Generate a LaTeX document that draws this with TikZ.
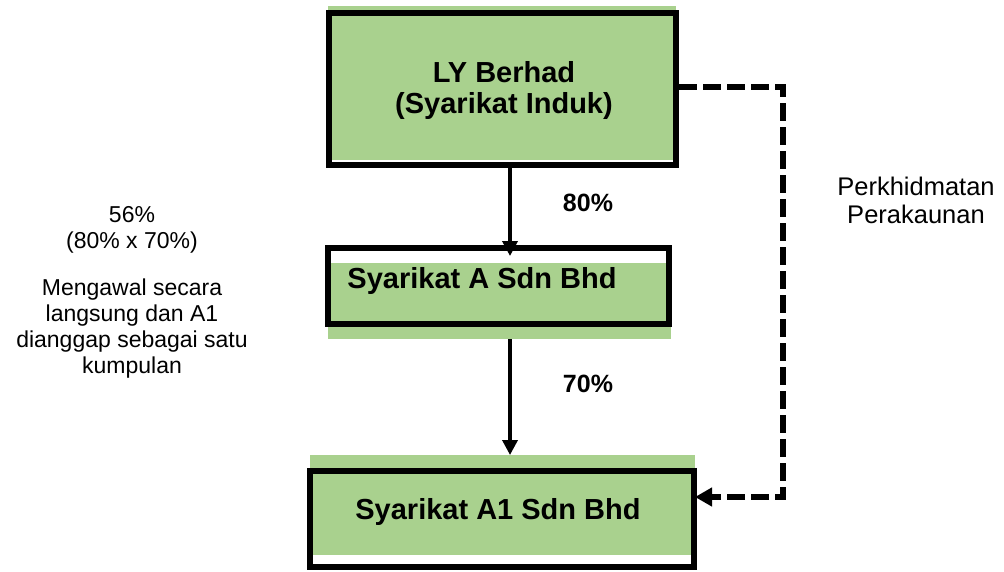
\documentclass[tikz,border=0pt]{standalone}
\usepackage{fontspec}
\setmainfont{Liberation Sans}
\usetikzlibrary{arrows.meta}
\definecolor{boxgreen}{HTML}{A9D18E}
\begin{document}
\begin{tikzpicture}[x=1pt,y=-1pt,
  greenbg/.style={fill=boxgreen, draw=none, inner sep=0pt, outer sep=0pt, rectangle},
  frame/.style={draw=black, line width=6pt, inner sep=0pt, rectangle},
  boxtext/.style={font=\fontsize{29}{31}\selectfont\bfseries, inner sep=0pt, anchor=base, align=center},
  pcttext/.style={font=\fontsize{25}{28}\selectfont\bfseries, inner sep=0pt, anchor=base},
  note/.style={inner sep=0pt, anchor=base, align=center},
  solidarrow/.style={line width=3.5pt, -{Triangle[width=15pt,length=15pt]}},
  servicearrow/.style={line width=5.5pt, dash pattern=on 18pt off 6pt, -{Triangle[width=18pt,length=17pt]}}
]
\useasboundingbox (0,0) rectangle (1004,571);

% green backgrounds
\node[greenbg, minimum width=348pt, minimum height=154pt] (bg1) at (502,83) {};
\node[greenbg, minimum width=343pt, minimum height=76pt] (bg2) at (499.5,301) {};
\node[greenbg, minimum width=385pt, minimum height=100pt] (bg3) at (502.5,505) {};

% frames
\node[frame, minimum width=347pt, minimum height=152pt] (ly) at (502.5,89) {};
\node[frame, minimum width=341pt, minimum height=76pt] (a) at (498.5,286) {};
\node[frame, minimum width=384pt, minimum height=96pt] (a1) at (502,519) {};

% box texts (base anchor = baseline of last line)
\node[boxtext] (lyt) at (504,113) {LY Berhad\\(Syarikat Induk)};
\node[boxtext] (at) at (482,288) {Syarikat A Sdn Bhd};
\node[boxtext] (a1t) at (498,519) {Syarikat A1 Sdn Bhd};

% ownership arrows
\coordinate (col) at (510,0);
\draw[solidarrow, shorten >=-11pt] (col |- ly.south) -- (col |- a.north);
\draw[solidarrow] (col |- bg2.south) -- (col |- bg3.north);

\node[pcttext] (p80) at (588,211) {80\%};
\node[pcttext] (p70) at (588,392) {70\%};

% service connector
\coordinate (dtop) at (783,87);
\coordinate (dbot) at (783,497);
\draw[servicearrow] (dtop -| ly.east) -- (dtop) -- (dbot) -- ([xshift=-2pt]dbot -| a1.east);

\node[note, font=\fontsize{25.5}{28}\selectfont] (svc) at (916,223) {Perkhidmatan\\Perakaunan};

% left notes
\node[note, font=\fontsize{23}{26}\selectfont] (pct) at (132,248) {56\%\\(80\% x 70\%)};
\node[note, font=\fontsize{23}{25.7}\selectfont] (desc) at (132,373) {Mengawal secara\\langsung dan A1\\dianggap sebagai satu\\kumpulan};
\end{tikzpicture}
\end{document}
